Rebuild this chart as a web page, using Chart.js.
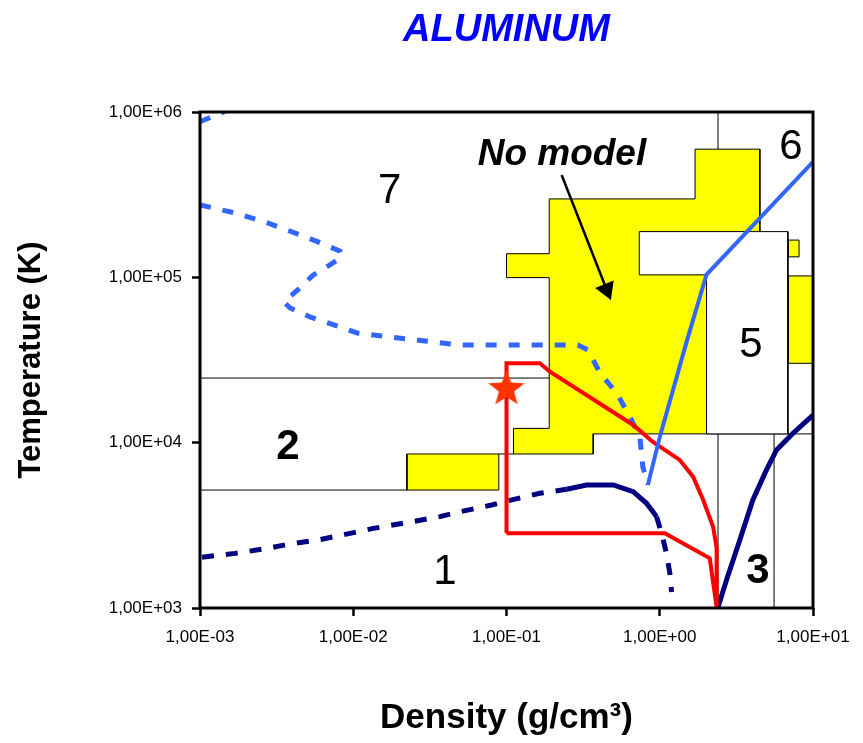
<!DOCTYPE html>
<html>
<head>
<meta charset="utf-8">
<script src="https://cdn.jsdelivr.net/npm/chart.js@4.4.0/dist/chart.umd.min.js"></script>
<style>
  html, body { margin: 0; padding: 0; background: #fff; }
  #wrap { width: 863px; height: 743px; }
</style>
</head>
<body>
<div id="wrap"><canvas id="alChart"></canvas></div>
<script>
// axes (g/cm3 , K)
const densityTicks = [1e-3, 1e-2, 1e-1, 1e0, 1e1];
const tempTicks = [1e3, 1e4, 1e5, 1e6];

// yellow "no model" zones
const noModelMain = [[0.19,2.98e5],[1.70,2.98e5],[1.70,5.96e5],[4.50,5.96e5],[4.50,1.5e5],[2.02,1.5e5],[2.02,1.13e4],
  [0.368,1.13e4],[0.368,8.54e3],[0.111,8.54e3],[0.111,1.22e4],[0.19,1.22e4],[0.19,9.96e4],[0.1,9.96e4],
  [0.1,1.39e5],[0.19,1.39e5],[0.19,2.98e5]];
const noModelLow = [[0.0224,5.17e3],[0.0891,5.17e3],[0.0891,8.54e3],[0.0224,8.54e3],[0.0224,5.17e3]];
const noModelSide = [[6.86,1.33e5],[8.11,1.33e5],[8.11,1.68e5],[6.86,1.68e5],[6.86,1.33e5]];
const noModelEdge = [[6.86,3.02e4],[10,3.02e4],[10,1.02e5],[6.86,1.02e5],[6.86,3.02e4]];
// white box of zone 5
const zone5Box = [[0.735,1.89e5],[6.86,1.89e5],[6.86,1.13e4],[2.02,1.13e4],[2.02,1.035e5],[0.735,1.035e5],[0.735,1.89e5]];

// thin boundaries between zones
const zoneBorders = [
  [[1e-3,2.46e4],[0.19,2.46e4]],
  [[1e-3,5.17e3],[0.0224,5.17e3]],
  [[0.0891,8.54e3],[0.111,8.54e3]],
  [[2.40,5.96e5],[2.40,1e6]],
  [[2.02,1.13e4],[10,1.13e4]],
  [[2.40,1e3],[2.40,1.13e4]],
  [[5.57,1e3],[5.57,1.13e4]]
];

// curves
const ionTop = [[1.0e-3,8.75e5],[1.39e-3,9.9e5],[1.5e-3,1.03e6]];
const ionCurve = [[1.0e-3,2.74e5],[1.73e-3,2.44e5],[2.79e-3,2.13e5],[4.84e-3,1.76e5],[6.07e-3,1.62e5],[8.19e-3,1.44e5],
  [8.44e-3,1.33e5],[7.05e-3,1.19e5],[5.46e-3,1.03e5],[4.49e-3,8.62e4],[3.53e-3,7.10e4],[3.87e-3,6.53e4],[5.22e-3,5.76e4],
  [8.19e-3,5.01e4],[1.06e-2,4.61e4],[1.73e-2,4.36e4],[2.94e-2,4.12e4],[4.97e-2,3.90e4],[9.06e-2,3.90e4],[0.292,3.90e4],
  [0.340,3.64e4],[0.407,2.64e4],[0.523,2.00e4],[0.655,1.37e4],[0.742,1.08e4],[0.776,7.13e3],[0.836,5.55e3]];
const ionSolid = [[0.836,5.55e3],[1.0,1.08e4],[1.50,4.1e4],[2.02,1.04e5],[10,5.0e5]];
const vaporDome = [[1.03e-3,2.03e3],[1.69e-3,2.14e3],[2.79e-3,2.30e3],[3.59e-3,2.41e3],[5.91e-3,2.58e3],[8.40e-3,2.76e3],
  [1.35e-2,3.03e3],[2.23e-2,3.28e3],[3.68e-2,3.57e3],[4.97e-2,3.82e3],[8.00e-2,4.20e3],[0.103,4.46e3],[0.165,4.94e3],
  [0.247,5.23e3],[0.333,5.55e3],[0.497,5.55e3],[0.671,5.05e3],[0.820,4.30e3],[0.953,3.57e3],[1.027,2.83e3],
  [1.107,2.14e3],[1.164,1.62e3],[1.194,1.25e3]];
const meltCurve = [[2.40,1.01e3],[2.73,1.48e3],[3.33,2.58e3],[4.05,4.50e3],[4.97,6.84e3],[5.78,9.03e3],[7.41,1.14e4],[10,1.47e4]];
const expDomain = [[0.1,2.83e3],[0.1,3.02e4],[0.165,3.02e4],[0.192,2.69e4],[0.671,1.28e4],[0.902,1.01e4],[1.35,7.86e3],
  [1.65,6.23e3],[1.92,4.50e3],[2.23,3.10e3],[2.35,2.31e3],[2.35,1.01e3],[2.12,2.00e3],[1.08,2.83e3],[0.1,2.83e3]];
const expPoint = [[0.1,2.11e4]];
const arrowPath = [[0.229,4.16e5],[0.450,8.44e4]];

// zone labels
const zoneNames = ['7','6','5','2','1','3'];
const zoneX = [0.0173, 7.17, 3.93, 3.75e-3, 3.96e-2, 4.37];
const zoneY = [3.29e5, 6.07e5, 3.85e4, 9.42e3, 1.65e3, 1.67e3];
const noModelText = 'No model';
const noModelAt = [0.23, 5.5e5];

const pts = arr => arr.map(([x, y]) => ({x, y}));
const SANS = 'Arial, "Liberation Sans", sans-serif';

function starImage(r, color) {
  const c = document.createElement('canvas');
  c.width = c.height = 2 * r + 2;
  const g = c.getContext('2d');
  g.beginPath();
  for (let i = 0; i < 10; i++) {
    const rad = i % 2 ? r * 0.42 : r;
    const ang = -Math.PI / 2 + i * Math.PI / 5;
    g.lineTo(r + 1 + rad * Math.cos(ang), r + 1 + rad * Math.sin(ang));
  }
  g.closePath();
  g.fillStyle = color;
  g.fill();
  return c;
}

function poly(data, fillColor, order) {
  return { data: pts(data), showLine: true, fill: 'shape', backgroundColor: fillColor,
    borderColor: '#000', borderWidth: 1, pointRadius: 0, order: order };
}

const datasets = [
  { data: pts(expPoint), pointStyle: starImage(19, '#FF3300'), pointRadius: 19, order: 0 },
  { data: pts(ionSolid), showLine: true, borderColor: '#3366FF', borderWidth: 4, pointRadius: 0, order: 1 },
  { data: pts(expDomain), showLine: true, borderColor: '#FF0000', borderWidth: 4, pointRadius: 0, order: 2 },
  { data: pts(ionCurve), showLine: true, borderColor: '#3366FF', borderWidth: 5, borderDash: [11, 12], pointRadius: 0, order: 3 },
  { data: pts(ionTop), showLine: true, borderColor: '#3366FF', borderWidth: 5, borderDash: [11, 12], pointRadius: 0, order: 3 },
  { data: pts(vaporDome), showLine: true, borderColor: '#000080', borderWidth: 5, pointRadius: 0, order: 4,
    borderDash: [12, 12],
    segment: { borderDash: c => (c.p0DataIndex >= 13 && c.p0DataIndex < 18) ? [] : [12, 12] } },
  { data: pts(meltCurve), showLine: true, borderColor: '#000080', borderWidth: 5, pointRadius: 0, order: 4 },
  { data: pts(arrowPath), showLine: true, borderColor: '#000', backgroundColor: '#000', borderWidth: 2.5,
    pointStyle: 'triangle', pointRadius: [0, 9], rotation: 158, order: 5 },
  poly(zone5Box, '#FFFFFF', 6),
  poly(noModelSide, '#FFFF00', 6),
  poly(noModelEdge, '#FFFF00', 6),
  ...zoneBorders.map(seg => ({ data: pts(seg), showLine: true, borderColor: '#000', borderWidth: 1, pointRadius: 0, order: 8 })),
  poly(noModelMain, '#FFFF00', 9),
  poly(noModelLow, '#FFFF00', 9)
];

const sciLabel = v => {
  const e = Math.round(Math.log10(v));
  return '1,00E' + (e < 0 ? '-' : '+') + String(Math.abs(e)).padStart(2, '0');
};

const labelsPlugin = {
  id: 'labelsPlugin',
  afterDatasetsDraw(chart) {
    const {ctx, chartArea: a, scales: {x, y}} = chart;
    ctx.save();
    ctx.fillStyle = '#000';
    ctx.textAlign = 'center';
    ctx.textBaseline = 'middle';
    zoneNames.forEach((t, i) => {
      const bold = (t === '2' || t === '3');
      ctx.font = (bold ? 'bold ' : '') + '42px ' + SANS;
      ctx.fillText(t, x.getPixelForValue(zoneX[i]), y.getPixelForValue(zoneY[i]));
    });
    ctx.font = 'italic bold 37px ' + SANS;
    ctx.fillText(noModelText, x.getPixelForValue(noModelAt[0]), y.getPixelForValue(noModelAt[1]));
    ctx.strokeStyle = '#000';
    ctx.lineWidth = 3;
    ctx.strokeRect(a.left, a.top, a.right - a.left, a.bottom - a.top);
    ctx.restore();
  }
};

new Chart(document.getElementById('alChart'), {
  type: 'scatter',
  data: { datasets: datasets },
  options: {
    responsive: true,
    maintainAspectRatio: false,
    animation: false,
    layout: { padding: { left: 0, right: 50, top: 0, bottom: 0 } },
    plugins: {
      legend: { display: false },
      tooltip: { enabled: false },
      title: {
        display: true,
        text: 'ALUMINUM',
        color: '#0000FF',
        fullSize: false,
        font: { family: SANS, size: 38, style: 'italic', weight: 'bold' },
        padding: { top: 8, bottom: 58.4 }
      }
    },
    scales: {
      x: {
        type: 'logarithmic',
        min: 1e-3,
        max: 10,
        afterBuildTicks: s => { s.ticks = densityTicks.map(v => ({value: v})); },
        afterFit: s => { s.height = 135; },
        ticks: { callback: v => sciLabel(v), color: '#000', font: { family: SANS, size: 17 },
          maxRotation: 0, autoSkip: false, padding: 11 },
        grid: { drawOnChartArea: false, drawTicks: true, tickLength: 8, tickColor: '#000', tickWidth: 2.5 },
        border: { display: false },
        title: { display: true, text: 'Density (g/cm³)', color: '#000',
          font: { family: SANS, size: 35, weight: 'bold' }, padding: { top: 0, bottom: 4 } }
      },
      y: {
        type: 'logarithmic',
        min: 1e3,
        max: 1e6,
        afterBuildTicks: s => { s.ticks = tempTicks.map(v => ({value: v})); },
        afterFit: s => { s.width = 200; },
        ticks: { callback: v => sciLabel(v), color: '#000', font: { family: SANS, size: 17 },
          autoSkip: false, padding: 10 },
        grid: { drawOnChartArea: false, drawTicks: true, tickLength: 8, tickColor: '#000', tickWidth: 2.5 },
        border: { display: false },
        title: { display: true, text: 'Temperature (K)', color: '#000',
          font: { family: SANS, size: 31, weight: 'bold' }, padding: { top: 13, bottom: 0 } }
      }
    }
  },
  plugins: [labelsPlugin]
});
</script>
</body>
</html>
